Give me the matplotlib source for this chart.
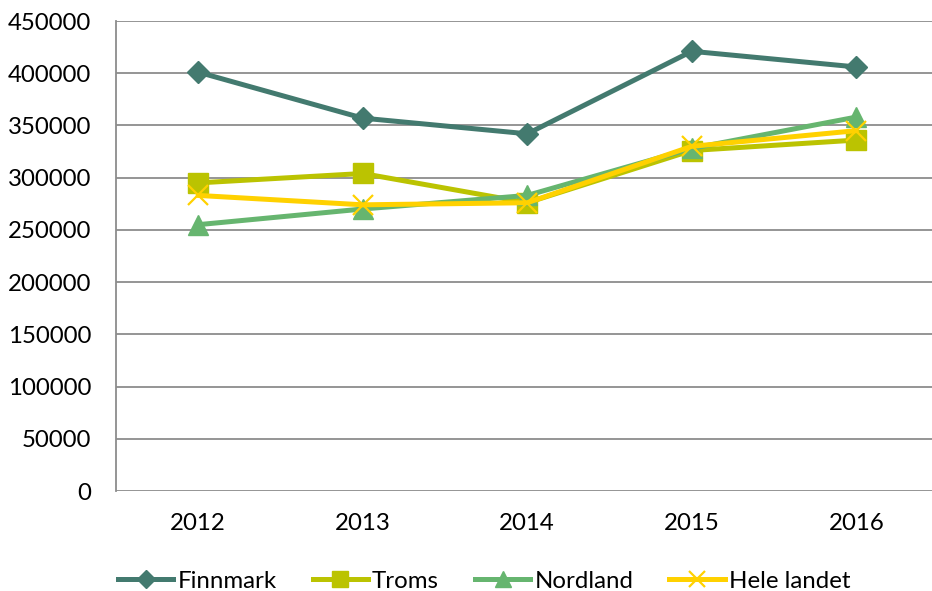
import matplotlib
matplotlib.use("Agg")
import matplotlib.pyplot as plt

years = ["2012", "2013", "2014", "2015", "2016"]
finnmark = [401000, 357000, 342000, 421000, 406000]
troms = [295000, 304000, 276000, 326000, 336000]
nordland = [255000, 270000, 283000, 328000, 358000]
hele_landet = [283000, 274000, 276000, 330000, 345000]
yticks = [0, 50000, 100000, 150000, 200000, 250000, 300000, 350000, 400000, 450000]

W, H = 932, 591
fig = plt.figure(figsize=(W / 100, H / 100), dpi=100)
ax_left, ax_right, ax_top, ax_bottom = 116, 932, 21, 491
ax = fig.add_axes([ax_left / W, 1 - ax_bottom / H, (ax_right - ax_left) / W, (ax_bottom - ax_top) / H])

plt.rcParams['font.family'] = ['Lato', 'DejaVu Sans']
fs = 17.3
x = list(range(len(years)))
lw = 3.6
ax.plot(x, finnmark, color="#437A6F", lw=lw, marker="D", ms=11.5, label="Finnmark", zorder=3)
ax.plot(x, troms, color="#BBC301", lw=lw, marker="s", ms=14, label="Troms", zorder=3)
ax.plot(x, nordland, color="#66B56F", lw=lw, marker="^", ms=15, label="Nordland", zorder=3)
ax.plot(x, hele_landet, color="#FFD100", lw=lw, marker="x", ms=14, mew=1.6, label="Hele landet", zorder=3)

ax.set_ylim(0, 450000)
spacing = 164.5
ax.set_xlim(-0.5, -0.5 + (ax_right - ax_left) / spacing)
ax.set_yticks(yticks)
ax.set_yticklabels([str(v) for v in yticks], fontsize=fs, family=['Lato', 'DejaVu Sans'])
ax.set_xticks(x)
ax.set_xticklabels(years, fontsize=fs, family=['Lato', 'DejaVu Sans'])
ax.tick_params(axis='both', length=0)
ax.tick_params(axis='y', pad=18)
ax.tick_params(axis='x', pad=16)
ax.grid(axis='y', color="#8C8C8C", lw=1.3, zorder=0)
ax.set_axisbelow(True)
for s in ["top", "right", "bottom"]:
    ax.spines[s].set_visible(False)
ax.spines["left"].set_color("#8C8C8C")
ax.spines["left"].set_linewidth(1.3)

leg = fig.legend(loc="center left", bbox_to_anchor=(118 / W, 1 - 581 / H), ncol=4, frameon=False,
                 handlelength=2.3, handletextpad=0.17, columnspacing=1.5, borderpad=0,
                 markerscale=0.8, borderaxespad=0, prop={'family': ['Lato', 'DejaVu Sans'], 'size': fs})

fig.savefig("out.png", dpi=100)
